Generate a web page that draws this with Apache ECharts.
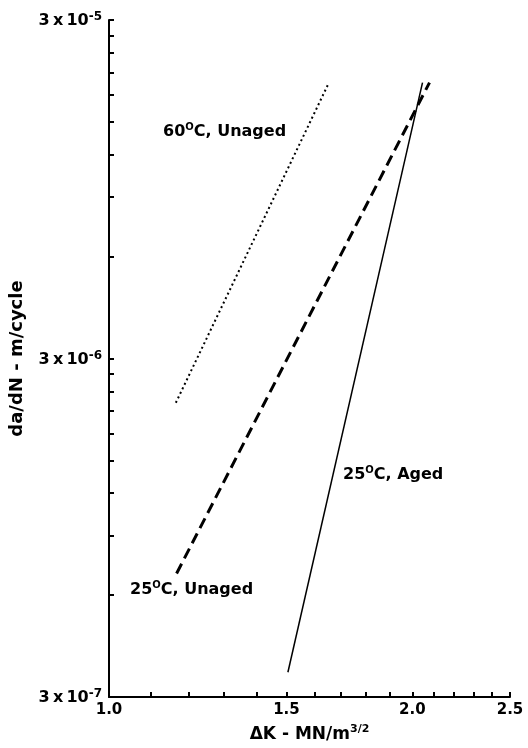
<!DOCTYPE html>
<html>
<head>
<meta charset="utf-8">
<script src="https://cdn.jsdelivr.net/npm/echarts@6/dist/echarts.min.js"></script>
<style>html,body{margin:0;padding:0;background:#fff}#c{width:528px;height:748px}</style>
</head>
<body>
<div id="c"></div>
<script>
// ---- data ----
const xTickValues = [1.0,1.1,1.2,1.3,1.4,1.5,1.6,1.7,1.8,1.9,2.0,2.1,2.2,2.3,2.4,2.5];
const xLabelValues = [1.0,1.5,2.0,2.5];
const yTickValues = [3e-7,6e-7,9e-7,1.2e-6,1.5e-6,1.8e-6,2.1e-6,2.4e-6,2.7e-6,3e-6,
                     6e-6,9e-6,1.2e-5,1.5e-5,1.8e-5,2.1e-5,2.4e-5,2.7e-5,3e-5];
const yLabelValues = [3e-7,3e-6,3e-5];
const yLabelExps = ['-7','-6','-5'];

const unaged60 = [[1.165,2.22e-6],[1.649,1.93e-5]];
const unaged25 = [[1.167,6.95e-7],[2.08,1.96e-5]];
const aged25   = [[1.505,3.55e-7],[2.047,1.96e-5]];

const FONT = '"DejaVu Sans", "Liberation Sans", sans-serif';
const chart = echarts.init(document.getElementById('c'), null, {renderer:'canvas'});

function yLabelFmt(v){
  for (let i=0;i<yLabelValues.length;i++){
    if (Math.abs(v/yLabelValues[i]-1) < 1e-3) return '{b|3\u2009x\u200910}{s|' + yLabelExps[i] + '}';
  }
  return '';
}

const annRich = {
  b:{fontFamily:FONT,fontWeight:'bold',fontSize:16,fill:'#000',lineHeight:18,verticalAlign:'bottom'},
  s:{fontFamily:FONT,fontWeight:'bold',fontSize:10,fill:'#000',lineHeight:12,verticalAlign:'top'}
};

chart.setOption({
  animation:false,
  backgroundColor:'#fff',
  grid:{left:107,right:18,top:20,bottom:49},
  xAxis:{
    type:'log', logBase:10, min:1.0, max:2.5,
    splitLine:{show:false},
    axisLine:{show:true,lineStyle:{color:'#000',width:2}},
    axisTick:{show:true,inside:true,length:5,lineStyle:{color:'#000',width:2},customValues:xTickValues},
    minorTick:{show:false},
    axisLabel:{show:true,customValues:xLabelValues,color:'#000',fontFamily:FONT,fontWeight:'bold',fontSize:15,margin:6,
      formatter:function(v){return Number(v).toFixed(1);}},
    name:'{b|ΔK - MN/m}{s|3/2}',
    nameLocation:'middle', nameGap:27,
    nameTextStyle:{rich:{
      b:{fontFamily:FONT,fontWeight:'bold',fontSize:17,color:'#000',lineHeight:19,verticalAlign:'bottom'},
      s:{fontFamily:FONT,fontWeight:'bold',fontSize:11,color:'#000',lineHeight:12,verticalAlign:'top'}
    }}
  },
  yAxis:{
    type:'log', logBase:10, min:3e-7, max:3e-5,
    splitLine:{show:false},
    axisLine:{show:true,lineStyle:{color:'#000',width:2}},
    axisTick:{show:true,inside:true,length:5,lineStyle:{color:'#000',width:2},customValues:yTickValues},
    minorTick:{show:false},
    axisLabel:{show:true,customValues:yLabelValues,margin:7,formatter:yLabelFmt,
      rich:{
        b:{fontFamily:FONT,fontWeight:'bold',fontSize:16,color:'#000',lineHeight:18,verticalAlign:'bottom'},
        s:{fontFamily:FONT,fontWeight:'bold',fontSize:12,color:'#000',lineHeight:13,verticalAlign:'top'}
      }},
    name:'da/dN - m/cycle',
    nameLocation:'middle', nameGap:83, nameRotate:90,
    nameTextStyle:{fontFamily:FONT,fontWeight:'bold',fontSize:18,color:'#000'}
  },
  series:[
    {type:'line',name:'60°C, Unaged',data:unaged60,symbol:'none',
     lineStyle:{color:'#000',width:2,type:[2,3]}},
    {type:'line',name:'25°C, Unaged',data:unaged25,symbol:'none',
     lineStyle:{color:'#000',width:3,type:[11,6]}},
    {type:'line',name:'25°C, Aged',data:aged25,symbol:'none',
     lineStyle:{color:'#000',width:1.5,type:'solid'}}
  ],
  graphic:[
    {type:'text',x:163,y:131,style:{text:'{b|60}{s|O}{b|C, Unaged}',verticalAlign:'middle',rich:annRich}},
    {type:'text',x:130,y:589,style:{text:'{b|25}{s|O}{b|C, Unaged}',verticalAlign:'middle',rich:annRich}},
    {type:'text',x:343,y:474,style:{text:'{b|25}{s|O}{b|C, Aged}',verticalAlign:'middle',rich:annRich}}
  ]
});
</script>
</body>
</html>
